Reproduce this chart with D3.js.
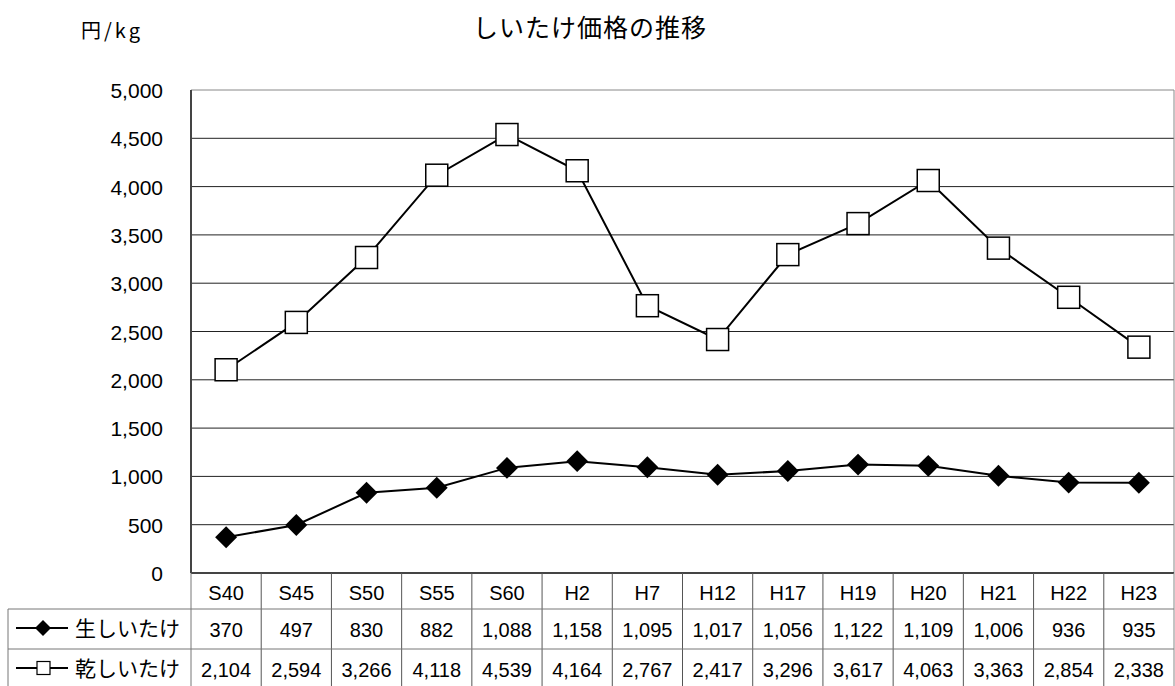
<!DOCTYPE html>
<html>
<head>
<meta charset="utf-8">
<script src="https://cdn.jsdelivr.net/npm/d3@7"></script>
<style>
  body { margin: 0; background: #fff; }
  text { font-family: "Liberation Sans", Arial, "Noto Sans CJK JP", sans-serif; fill: #000; }
  .jp { font-family: "Noto Sans CJK JP", sans-serif; }
</style>
</head>
<body>
<div id="chart"></div>
<script>
// data
const years = ["S40", "S45", "S50", "S55", "S60", "H2", "H7", "H12", "H17", "H19", "H20", "H21", "H22", "H23"];
const fresh = [370, 497, 830, 882, 1088, 1158, 1095, 1017, 1056, 1122, 1109, 1006, 936, 935];
const dried = [2104, 2594, 3266, 4118, 4539, 4164, 2767, 2417, 3296, 3617, 4063, 3363, 2854, 2338];
const yTicks = [0, 500, 1000, 1500, 2000, 2500, 3000, 3500, 4000, 4500, 5000];

const W = 1175, H = 686;
const plot = {left: 191, right: 1174, top: 90, bottom: 573};
const tableLeft = 8;
const rowY = [573, 609, 649, 686];

const svg = d3.select("#chart").append("svg")
    .attr("width", W)
    .attr("height", H);

const x = d3.scaleBand()
    .domain(years)
    .range([plot.left, plot.right])
    .padding(0);

const y = d3.scaleLinear()
    .domain([0, 5000])
    .range([plot.bottom, plot.top]);

// title + unit
svg.append("text")
    .attr("class", "jp")
    .attr("x", 590).attr("y", 37)
    .attr("text-anchor", "middle")
    .style("font-size", "25px")
    .style("letter-spacing", "1px")
    .text("しいたけ価格の推移");

svg.append("text")
    .attr("class", "jp")
    .attr("x", 81).attr("y", 38)
    .style("font-size", "20px")
    .style("letter-spacing", "3px")
    .text("円/kg");

// gridlines
svg.append("g")
    .selectAll("line")
    .data(yTicks.filter(d => d > 0))
    .enter()
    .append("line")
    .attr("x1", plot.left).attr("x2", plot.right)
    .attr("y1", d => y(d)).attr("y2", d => y(d))
    .attr("stroke", d => d === 5000 ? "#888" : "#222")
    .attr("stroke-width", 1);

// y axis labels
svg.append("g")
    .selectAll("text")
    .data(yTicks)
    .enter()
    .append("text")
    .attr("x", 163)
    .attr("y", d => y(d) + 8)
    .attr("text-anchor", "end")
    .style("font-size", "21px")
    .text(d => d3.format(",")(d));

// plot frame
svg.append("line")
    .attr("x1", plot.left).attr("x2", plot.left)
    .attr("y1", plot.top).attr("y2", plot.bottom)
    .attr("stroke", "#444").attr("stroke-width", 2);
svg.append("line")
    .attr("x1", plot.right).attr("x2", plot.right)
    .attr("y1", plot.top).attr("y2", plot.bottom)
    .attr("stroke", "#888").attr("stroke-width", 1);
svg.append("line")
    .attr("x1", plot.left).attr("x2", plot.right)
    .attr("y1", plot.bottom).attr("y2", plot.bottom)
    .attr("stroke", "#444").attr("stroke-width", 2);

// data table grid
const tbl = svg.append("g").attr("stroke", "#777").attr("stroke-width", 1);
years.forEach((yr, i) => {
    const xr = x(yr) + x.bandwidth();
    tbl.append("line")
        .attr("x1", xr).attr("x2", xr)
        .attr("y1", rowY[0]).attr("y2", H)
        .attr("stroke", i === years.length - 1 ? "#888" : "#555");
});
tbl.append("line")
    .attr("x1", plot.left).attr("x2", plot.left)
    .attr("y1", rowY[0]).attr("y2", H);
tbl.append("line")
    .attr("x1", tableLeft).attr("x2", tableLeft)
    .attr("y1", rowY[1]).attr("y2", H);
[rowY[1], rowY[2]].forEach(yy => {
    tbl.append("line")
        .attr("x1", tableLeft).attr("x2", plot.right)
        .attr("y1", yy).attr("y2", yy);
});

// table text
const fmt = d3.format(",");
const cx = d => x(d) + x.bandwidth() / 2;
svg.append("g").selectAll("text")
    .data(years).enter().append("text")
    .attr("x", d => cx(d)).attr("y", 600)
    .attr("text-anchor", "middle")
    .style("font-size", "20px")
    .text(d => d);
svg.append("g").selectAll("text")
    .data(fresh).enter().append("text")
    .attr("x", (d, i) => cx(years[i])).attr("y", 637)
    .attr("text-anchor", "middle")
    .style("font-size", "20px")
    .text(d => fmt(d));
svg.append("g").selectAll("text")
    .data(dried).enter().append("text")
    .attr("x", (d, i) => cx(years[i])).attr("y", 677)
    .attr("text-anchor", "middle")
    .style("font-size", "20px")
    .text(d => fmt(d));

// lines
const line = d3.line()
    .x((d, i) => cx(years[i]))
    .y(d => y(d));

svg.append("path")
    .datum(dried)
    .attr("d", line)
    .attr("fill", "none")
    .attr("stroke", "#000")
    .attr("stroke-width", 2);

svg.append("path")
    .datum(fresh)
    .attr("d", line)
    .attr("fill", "none")
    .attr("stroke", "#000")
    .attr("stroke-width", 2);

const diamond = d3.symbol().type(d3.symbolSquare).size(240);

svg.append("g").selectAll("path")
    .data(fresh).enter().append("path")
    .attr("d", diamond)
    .attr("transform", (d, i) => `translate(${cx(years[i])},${y(d)}) rotate(45)`)
    .attr("fill", "#000");

svg.append("g").selectAll("rect")
    .data(dried).enter().append("rect")
    .attr("x", (d, i) => cx(years[i]) - 11)
    .attr("y", d => y(d) - 11)
    .attr("width", 22).attr("height", 22)
    .attr("fill", "#fff")
    .attr("stroke", "#000")
    .attr("stroke-width", 1.5);

// legend cells
const legend = [
    {name: "生しいたけ", y: 628, kind: "diamond"},
    {name: "乾しいたけ", y: 668, kind: "square"}
];
legend.forEach(l => {
    svg.append("line")
        .attr("x1", 16).attr("x2", 68)
        .attr("y1", l.y).attr("y2", l.y)
        .attr("stroke", "#000").attr("stroke-width", 2);
    if (l.kind === "diamond") {
        svg.append("path")
            .attr("d", d3.symbol().type(d3.symbolSquare).size(128))
            .attr("transform", `translate(43,${l.y}) rotate(45)`)
            .attr("fill", "#000");
    } else {
        svg.append("rect")
            .attr("x", 37).attr("y", l.y - 6.5)
            .attr("width", 13).attr("height", 13)
            .attr("fill", "#fff").attr("stroke", "#000").attr("stroke-width", 1.2);
    }
    svg.append("text")
        .attr("class", "jp")
        .attr("x", 75).attr("y", l.y + 8)
        .style("font-size", "21px")
        .text(l.name);
});
</script>
</body>
</html>
